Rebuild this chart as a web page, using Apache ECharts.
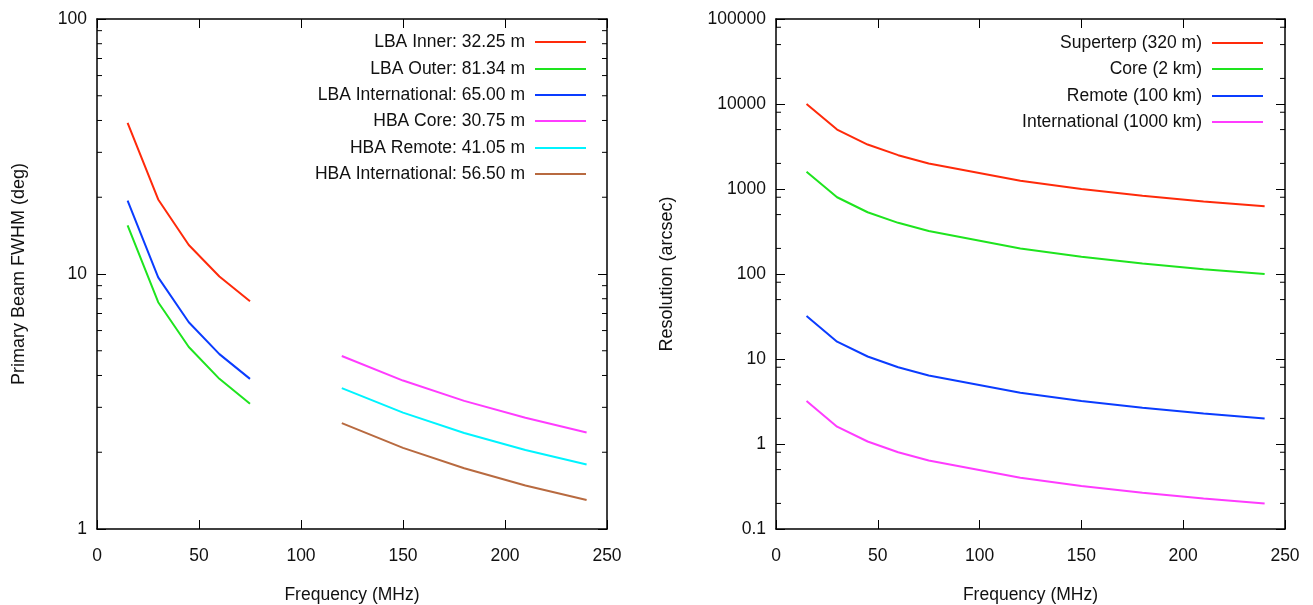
<!DOCTYPE html>
<html>
<head>
<meta charset="utf-8">
<script src="https://cdn.jsdelivr.net/npm/echarts@6/dist/echarts.min.js"></script>
<style>
  html, body { margin: 0; padding: 0; background: #fff; }
  #chart { width: 1313px; height: 605px; }
</style>
</head>
<body>
<div id="chart"></div>
<script>
// ---------- data ----------
const lbaFreq = [15, 30, 45, 60, 75];
const hbaFreq = [120, 150, 180, 210, 240];
const lbaInner = [39.1, 19.6, 13.0, 9.78, 7.82];
const lbaOuter = [15.5, 7.75, 5.17, 3.88, 3.10];
const lbaIntl = [19.4, 9.70, 6.47, 4.85, 3.88];
const hbaCore = [4.77, 3.82, 3.18, 2.73, 2.39];
const hbaRemote = [3.57, 2.86, 2.38, 2.04, 1.79];
const hbaIntl = [2.60, 2.08, 1.73, 1.48, 1.30];

const resFreq = [15, 30, 45, 60, 75, 120, 150, 180, 210, 240];
const resSuperterp = [10000, 5000, 3333, 2500, 2000, 1250, 1000, 833, 714, 625];
const resCore = [1600, 800, 533, 400, 320, 200, 160, 133, 114, 100];
const resRemote = [32, 16, 10.7, 8.0, 6.4, 4.0, 3.2, 2.67, 2.29, 2.0];
const resIntl = [3.2, 1.6, 1.07, 0.8, 0.64, 0.4, 0.32, 0.267, 0.229, 0.2];

const leftNames = ['LBA Inner: 32.25 m', 'LBA Outer: 81.34 m', 'LBA International: 65.00 m',
                   'HBA Core: 30.75 m', 'HBA Remote: 41.05 m', 'HBA International: 56.50 m'];
const rightNames = ['Superterp (320 m)', 'Core (2 km)', 'Remote (100 km)', 'International (1000 km)'];

const leftMinorTicks = [2, 3, 4, 5, 6, 7, 8, 9, 20, 30, 40, 50, 60, 70, 80, 90];
const rightMinorTicks = [0.2, 0.5, 0.8, 2, 5, 8, 20, 50, 80, 200, 500, 800,
                         2000, 5000, 8000, 20000, 50000, 80000];

const colors = {
  red: '#ff2a0a', green: '#1ee41e', blue: '#0a3cff',
  magenta: '#ff3cff', cyan: '#00f4ff', brown: '#b86a40'
};

// ---------- helpers ----------
const FONT = 'Liberation Sans, Arial, Helvetica, sans-serif';
const FS = 17.5;
const TXT = '#111';

function pairs(xs, ys) { return xs.map((x, i) => [x, ys[i]]); }

function lineSeries(name, xs, ys, color, idx) {
  return {
    name, type: 'line', xAxisIndex: idx * 2, yAxisIndex: idx * 2,
    data: pairs(xs, ys), showSymbol: false, symbol: 'none',
    lineStyle: { color, width: 2 }, itemStyle: { color },
    emphasis: { disabled: true }, animation: false, z: 3
  };
}

function minorTickSeries(vals, idx) {
  return {
    type: 'custom', xAxisIndex: idx * 2, yAxisIndex: idx * 2,
    data: vals.map(v => [0, v]), silent: true, animation: false, z: 4,
    renderItem(params, api) {
      const v = api.value(1);
      const pL = api.coord([0, v]);
      const pR = api.coord([250, v]);
      const st = { stroke: '#000', lineWidth: 1 };
      return {
        type: 'group', children: [
          { type: 'line', shape: { x1: pL[0], y1: pL[1], x2: pL[0] + 5, y2: pL[1] }, style: st },
          { type: 'line', shape: { x1: pR[0], y1: pR[1], x2: pR[0] - 5, y2: pR[1] }, style: st }
        ]
      };
    }
  };
}

const axisLineStyle = { show: true, onZero: false, lineStyle: { color: '#000', width: 1.5 } };
const tickIn = { show: true, inside: true, length: 9, lineStyle: { color: '#000', width: 1 } };
const labelStyle = { color: TXT, fontFamily: FONT, fontSize: FS };
const numFmt = v => String(+Number(v).toPrecision(6));

function xAxes(gridIndex) {
  return [
    {
      type: 'value', gridIndex, min: 0, max: 250, interval: 50, position: 'bottom',
      axisLine: axisLineStyle, axisTick: tickIn, splitLine: { show: false },
      axisLabel: Object.assign({ margin: 18, formatter: numFmt }, labelStyle),
      name: 'Frequency (MHz)', nameLocation: 'middle', nameGap: 57,
      nameTextStyle: { color: TXT, fontFamily: FONT, fontSize: FS }
    },
    {
      type: 'value', gridIndex, min: 0, max: 250, interval: 50, position: 'top',
      axisLine: axisLineStyle, axisTick: tickIn, splitLine: { show: false },
      axisLabel: { show: false }
    }
  ];
}

function yAxes(gridIndex, min, max, split, name, gap) {
  return [
    {
      type: 'log', logBase: 10, gridIndex, min, max, splitNumber: split, position: 'left',
      axisLine: axisLineStyle, axisTick: tickIn, splitLine: { show: false },
      minorTick: { show: false },
      axisLabel: Object.assign({ margin: 10, formatter: numFmt }, labelStyle),
      name, nameLocation: 'middle', nameGap: gap,
      nameTextStyle: { color: TXT, fontFamily: FONT, fontSize: 18 }
    },
    {
      type: 'log', logBase: 10, gridIndex, min, max, splitNumber: split, position: 'right',
      axisLine: axisLineStyle, axisTick: tickIn, splitLine: { show: false },
      axisLabel: { show: false }
    }
  ];
}

function legendItem(name, right, top) {
  return {
    data: [name], right, top, orient: 'vertical', align: 'right', padding: 0,
    icon: 'rect', itemWidth: 51, itemHeight: 2, selectedMode: false,
    textStyle: { color: TXT, fontFamily: FONT, fontSize: FS, padding: [0, 5, 0, 0] }
  };
}

const leftRows = [41, 68, 94, 120, 147, 173];
const rightRows = [42, 68, 95, 121];

const option = {
  backgroundColor: '#fff',
  animation: false,
  grid: [
    { left: 97, top: 19, width: 510, height: 510, outerBoundsMode: 'none' },
    { left: 776, top: 19, width: 509, height: 510, outerBoundsMode: 'none' }
  ],
  xAxis: [...xAxes(0), ...xAxes(1)],
  yAxis: [
    ...yAxes(0, 1, 100, 2, 'Primary Beam FWHM (deg)', 69),
    ...yAxes(1, 0.1, 100000, 6, 'Resolution (arcsec)', 100)
  ],
  legend: [
    ...leftNames.map((n, i) => legendItem(n, 727, leftRows[i] - 8)),
    ...rightNames.map((n, i) => legendItem(n, 50, rightRows[i] - 8))
  ],
  series: [
    lineSeries(leftNames[0], lbaFreq, lbaInner, colors.red, 0),
    lineSeries(leftNames[1], lbaFreq, lbaOuter, colors.green, 0),
    lineSeries(leftNames[2], lbaFreq, lbaIntl, colors.blue, 0),
    lineSeries(leftNames[3], hbaFreq, hbaCore, colors.magenta, 0),
    lineSeries(leftNames[4], hbaFreq, hbaRemote, colors.cyan, 0),
    lineSeries(leftNames[5], hbaFreq, hbaIntl, colors.brown, 0),
    lineSeries(rightNames[0], resFreq, resSuperterp, colors.red, 1),
    lineSeries(rightNames[1], resFreq, resCore, colors.green, 1),
    lineSeries(rightNames[2], resFreq, resRemote, colors.blue, 1),
    lineSeries(rightNames[3], resFreq, resIntl, colors.magenta, 1),
    minorTickSeries(leftMinorTicks, 0),
    minorTickSeries(rightMinorTicks, 1)
  ]
};

const chart = echarts.init(document.getElementById('chart'), null, { renderer: 'canvas' });
chart.setOption(option);
</script>
</body>
</html>
